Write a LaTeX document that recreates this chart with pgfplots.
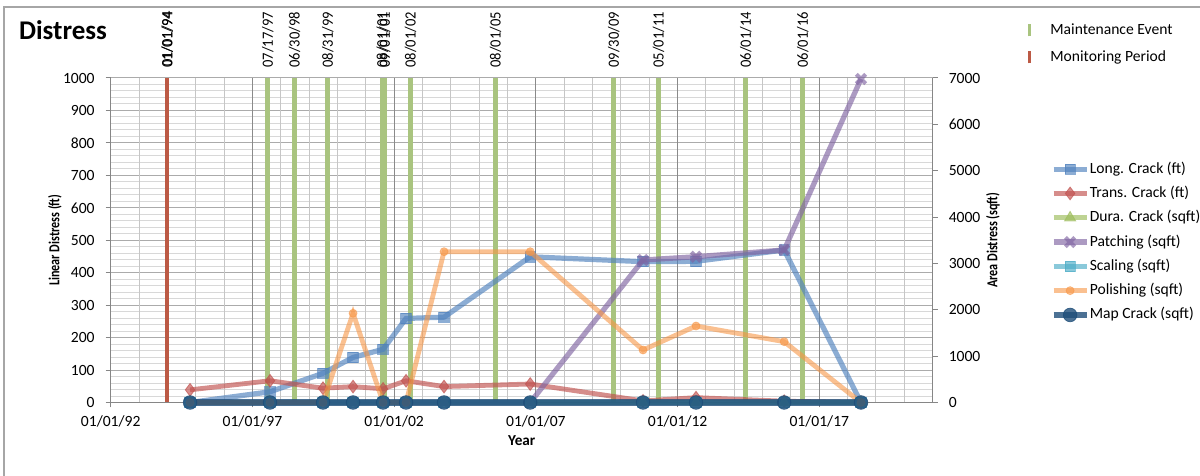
\documentclass[border=0pt]{standalone}
\usepackage{pgfplots}
\pgfplotsset{compat=1.18}
\usepackage{pgfplotstable}
\usepackage{fontspec}
\setmainfont{Carlito}
\usepackage{graphicx}

\definecolor{cLong}{HTML}{4F81BD}
\definecolor{cTrans}{HTML}{C0504D}
\definecolor{cDura}{HTML}{9BBB59}
\definecolor{cPatch}{HTML}{8064A2}
\definecolor{cScal}{HTML}{4BACC6}
\definecolor{cPol}{HTML}{F79646}
\definecolor{cMap}{HTML}{1F4E79}
\definecolor{cMaint}{HTML}{A9C47F}
\definecolor{cMon}{HTML}{BC5A45}
\definecolor{xmaj}{HTML}{8A8A8A}
\definecolor{xmin}{HTML}{C6C6C6}
\definecolor{ymaj}{HTML}{ABABAB}
\definecolor{ymin}{HTML}{D8D8D8}
\definecolor{axgray}{HTML}{868686}

% survey dates (decimal years) and measured distress
\pgfplotstableread{
x       long trans patch pol  zero
1994.80 0    39    0     0    0
1997.62 33   67    0     0    0
1999.49 90   44    0     0    0
2000.55 139  49    0     1924 0
2001.61 164  42    0     0    0
2002.42 259  67    0     0    0
2003.76 263  49    0     3253 0
2006.80 449  57    0     3253 0
2010.78 434  5     3074  1133 0
2012.65 435  15    3145  1650 0
2015.76 470  4     3290  1312 0
2018.47 0    0     6980  0    0
}\dist

% maintenance events
\pgfplotstableread{
x       y
1997.54 1000
1998.49 1000
1999.66 1000
2001.58 1000
2001.67 1000
2002.58 1000
2005.58 1000
2009.75 1000
2011.33 1000
2014.41 1000
2016.42 1000
}\maint

\pgfplotstableread{
x      y
1994.0 1000
}\monit

\newcommand{\tickfont}{\fontsize{7.8}{9}\selectfont}
\newcommand{\datelbl}[2]{\node[rotate=90, anchor=west, inner sep=0pt, font=\tickfont] at (axis cs:#1,1031) {\scalebox{0.93}[1]{#2}};}

\pgfplotsset{
  longstyle/.style={color=cLong, opacity=0.65, line width=2.6pt, mark=square*, mark size=2.6pt, mark options={fill=cLong, line width=0.4pt}},
  transstyle/.style={color=cTrans, opacity=0.65, line width=2.4pt, mark=diamond*, mark size=3.2pt, mark options={fill=cTrans, line width=0.4pt}},
  durastyle/.style={color=cDura, opacity=0.65, line width=2.4pt, mark=triangle*, mark size=3.2pt, mark options={fill=cDura, line width=0.4pt}},
  patchstyle/.style={color=cPatch, opacity=0.65, line width=2.6pt, mark=x, mark size=3.3pt, mark options={line width=2pt}},
  scalstyle/.style={color=cScal, opacity=0.65, line width=2.4pt, mark=square*, mark size=2.6pt, mark options={fill=cScal, line width=0.4pt}},
  polstyle/.style={color=cPol, opacity=0.6, line width=2.4pt, mark=*, mark size=2pt, mark options={fill=cPol, line width=0.4pt}},
  mapstyle/.style={color=cMap, opacity=0.8, line width=3.2pt, mark=*, mark size=3.4pt, mark options={fill=cMap, line width=0.4pt}},
  base/.style={
    at={(55.35pt,36.75pt)}, anchor=south west,
    scale only axis, width=411pt, height=162.25pt,
    xmin=1992, xmax=2021,
    tick align=outside, major tick length=2.5pt, minor tick length=0pt,
    tick style={color=axgray, line width=0.5pt},
    axis line style={draw=axgray, line width=0.6pt},
    ticklabel style={font=\tickfont},
    /pgf/number format/assume math mode=true,
    /pgf/number format/set thousands separator={},
    label style={font=\fontsize{7.6}{9}\selectfont\bfseries},
  }
}

\begin{document}
\begin{tikzpicture}
\path[use as bounding box] (0,0) rectangle (600pt,238pt);
\draw[color=gray!70, line width=0.7pt] (2pt,0) -- (2pt,234.5pt) -- (600pt,234.5pt);
\node[anchor=base west, font=\fontsize{13.5}{15}\selectfont\bfseries] at (6pt,218pt) {Distress};

% horizontal grid only
\begin{axis}[base,
  ymin=0, ymax=1000,
  xtick=\empty,
  ytick={0,100,...,1000}, yticklabels={},
  minor ytick={0,20,...,1000},
  ymajorgrids, yminorgrids,
  major y grid style={color=ymaj, line width=0.5pt},
  minor y grid style={color=ymin, line width=0.5pt},
  major tick length=0pt,
  axis line style={draw=none},
]
\end{axis}

% left axis: vertical grid, events and linear distress
\begin{axis}[base,
  ymin=0, ymax=1000,
  axis x line*=bottom, axis y line*=left,
  xtick={1992,1997,...,2017},
  xticklabels={01/01/92,01/01/97,01/01/02,01/01/07,01/01/12,01/01/17},
  minor xtick={1992,...,2021},
  ytick={0,100,...,1000},
  xmajorgrids, xminorgrids,
  major x grid style={color=xmaj, line width=0.5pt},
  minor x grid style={color=xmin, line width=0.5pt},
  xticklabel style={yshift=-0.5pt},
  yticklabel style={xshift=-2pt},
  xlabel={Year},
  xlabel style={at={(axis description cs:0.5,-0.1186)}, anchor=center},
  ylabel={\scalebox{0.8}[1]{Linear Distress (ft)}},
  ylabel style={at={(axis description cs:-0.0678,0.5)}, anchor=center},
  clip=false,
  legend style={at={(1.1086,1.1726)}, anchor=north west, draw=none, fill=none,
    inner sep=0pt, row sep=5.5pt,
    nodes={inner sep=0pt, text height=6pt, text depth=2pt, font=\fontsize{7.8}{9}\selectfont}},
  legend cell align=left,
  legend image code/.code={\path[draw=none, fill=none] (0pt,-4pt) rectangle (14pt,4pt);
    \draw[#1, line width=1.6pt] (3.5pt,-3pt) -- (3.5pt,3pt);},
]
\addplot[ycomb, color=cMaint, line width=2.5pt] table {\maint};
\addlegendentry{Maintenance Event}
\addplot[ycomb, color=cMon, line width=2pt] table {\monit};
\addlegendentry{Monitoring Period}

\addplot[longstyle, forget plot] table[y=long] {\dist};
\addplot[transstyle, forget plot] table[y=trans] {\dist};

\datelbl{1994.0}{01/01/94}
\node[rotate=90, anchor=west, inner sep=0pt, font=\tickfont, xshift=0.3pt] at (axis cs:1994.0,1031) {\scalebox{0.93}[1]{01/01/94}};
\datelbl{1997.54}{07/17/97}
\datelbl{1998.49}{06/30/98}
\datelbl{1999.66}{08/31/99}
\datelbl{2001.58}{08/01/01}
\datelbl{2001.67}{09/01/01}
\datelbl{2002.58}{08/01/02}
\datelbl{2005.58}{08/01/05}
\datelbl{2009.75}{09/30/09}
\datelbl{2011.33}{05/01/11}
\datelbl{2014.41}{06/01/14}
\datelbl{2016.42}{06/01/16}
\end{axis}

% right axis: area distress
\begin{axis}[base,
  ymin=0, ymax=7000,
  axis x line=none, axis y line*=right,
  ytick={0,1000,...,7000},
  yticklabel style={xshift=2pt},
  ylabel={\scalebox{0.8}[1]{Area Distress (sqft)}},
  ylabel style={at={(axis description cs:1.0733,0.5)}, anchor=center},
  clip=false,
  legend style={at={(1.1427,0.745)}, anchor=north west, draw=none, fill=none,
    inner sep=0pt, row sep=4.15pt,
    nodes={inner sep=0pt, text height=6pt, text depth=2pt, font=\fontsize{7.8}{9}\selectfont}},
  legend cell align=left,
  legend image code/.code={\path[draw=none, fill=none] (0pt,-4pt) rectangle (17.5pt,4pt);
    \draw[mark repeat=2, mark phase=2, #1] plot coordinates {(0pt,0pt) (8.25pt,0pt) (16.5pt,0pt)};},
]
\addlegendimage{longstyle}
\addlegendentry{Long. Crack (ft)}
\addlegendimage{transstyle}
\addlegendentry{Trans. Crack (ft)}
\addplot[durastyle] table[y=zero] {\dist};
\addlegendentry{Dura. Crack (sqft)}
\addplot[patchstyle] table[y=patch] {\dist};
\addlegendentry{Patching (sqft)}
\addplot[scalstyle] table[y=zero] {\dist};
\addlegendentry{Scaling (sqft)}
\addplot[polstyle] table[y=pol] {\dist};
\addlegendentry{Polishing (sqft)}
\addplot[mapstyle] table[y=zero] {\dist};
\addlegendentry{Map Crack (sqft)}
\end{axis}
\end{tikzpicture}
\end{document}
